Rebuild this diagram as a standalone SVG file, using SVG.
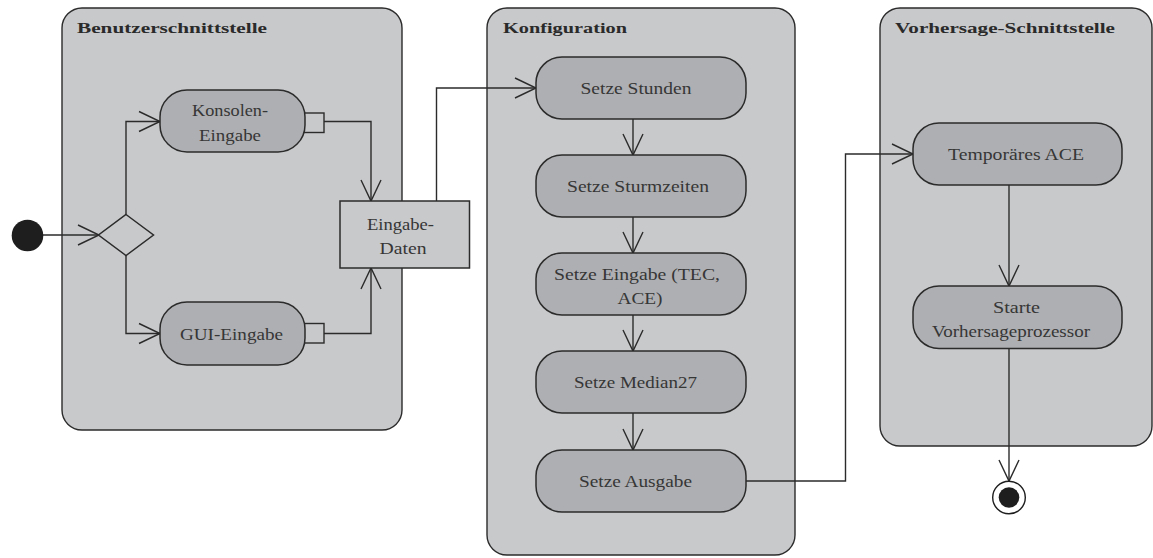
<svg xmlns="http://www.w3.org/2000/svg" width="1153" height="558" viewBox="0 0 1153 558">
  <style>
    .lane { fill: #c8c9cb; stroke: #2b2b2b; stroke-width: 1.4; }
    .act { fill: #aeafb2; stroke: #2b2b2b; stroke-width: 1.5; }
    .pin { fill: #c8c9cb; stroke: #2b2b2b; stroke-width: 1.4; }
    .obj { fill: #c8c9cb; stroke: #2b2b2b; stroke-width: 1.5; }
    .title { font-family: 'Liberation Serif', 'DejaVu Serif', serif; font-weight: bold; font-size: 15px; fill: #2a2a2a; }
    .lbl { font-family: 'Liberation Serif', 'DejaVu Serif', serif; font-size: 17px; fill: #363636; text-anchor: middle; }
    .edge { fill: none; stroke: #2b2b2b; stroke-width: 1.4; }
  </style>
  <defs>
    <marker id="open" markerUnits="userSpaceOnUse" viewBox="-23 -12 25 24" refX="0" refY="0" markerWidth="25" markerHeight="24" orient="auto" overflow="visible">
      <path d="M-21,-10 L0,0 L-21,10" fill="none" stroke="#2b2b2b" stroke-width="1.4"/>
    </marker>
  </defs>

  <!-- swimlanes -->
  <g id="lane-benutzer">
    <rect class="lane" x="62" y="8" width="340" height="422" rx="20"/>
    <text class="title" x="77" y="33" textLength="190" lengthAdjust="spacingAndGlyphs">Benutzerschnittstelle</text>
  </g>
  <g id="lane-konfiguration">
    <rect class="lane" x="487" y="8" width="308" height="547" rx="20"/>
    <text class="title" x="503" y="33" textLength="124" lengthAdjust="spacingAndGlyphs">Konfiguration</text>
  </g>
  <g id="lane-vorhersage">
    <rect class="lane" x="880" y="8" width="272" height="438" rx="20"/>
    <text class="title" x="895" y="33" textLength="220" lengthAdjust="spacingAndGlyphs">Vorhersage-Schnittstelle</text>
  </g>

  <!-- control flow -->
  <g id="connectors">
    <path class="edge" d="M43,235 H99" marker-end="url(#open)"/>
    <path class="edge" d="M126,214.5 V121.5 H160" marker-end="url(#open)"/>
    <path class="edge" d="M126,255 V333.5 H160" marker-end="url(#open)"/>
    <path class="edge" d="M324,121.5 H371 V201" marker-end="url(#open)"/>
    <path class="edge" d="M324,333.5 H371 V268" marker-end="url(#open)"/>
    <path class="edge" d="M436.5,201 V88 H536" marker-end="url(#open)"/>
    <path class="edge" d="M633,119 V155" marker-end="url(#open)"/>
    <path class="edge" d="M633,217 V253" marker-end="url(#open)"/>
    <path class="edge" d="M633,315 V351" marker-end="url(#open)"/>
    <path class="edge" d="M633,413 V450" marker-end="url(#open)"/>
    <path class="edge" d="M746,481 H845.5 V154 H913" marker-end="url(#open)"/>
    <path class="edge" d="M1009,185 V286" marker-end="url(#open)"/>
    <path class="edge" d="M1009,348 V481" marker-end="url(#open)"/>
  </g>

  <!-- start node -->
  <g id="start">
    <circle cx="27.5" cy="235.5" r="15.8" fill="#1e1e1e"/>
  </g>

  <!-- decision -->
  <g id="decision">
    <polygon class="obj" points="126,214.5 153.5,235 126,255.5 98.5,235"/>
  </g>

  <!-- Benutzerschnittstelle actions -->
  <g id="konsolen-eingabe">
    <rect class="pin" x="300" y="113" width="24" height="19.5"/>
    <rect class="act" x="160" y="90" width="145" height="62" rx="27"/>
    <text class="lbl" x="230" y="116" textLength="76" lengthAdjust="spacingAndGlyphs">Konsolen-</text>
    <text class="lbl" x="230" y="141" textLength="62" lengthAdjust="spacingAndGlyphs">Eingabe</text>
  </g>
  <g id="gui-eingabe">
    <rect class="pin" x="300" y="323.5" width="24" height="19.5"/>
    <rect class="act" x="160" y="302" width="145" height="63" rx="27"/>
    <text class="lbl" x="231.5" y="340" textLength="103" lengthAdjust="spacingAndGlyphs">GUI-Eingabe</text>
  </g>
  <g id="eingabe-daten">
    <rect class="obj" x="340" y="201" width="129.5" height="67"/>
    <text class="lbl" x="400.5" y="230" textLength="67" lengthAdjust="spacingAndGlyphs">Eingabe-</text>
    <text class="lbl" x="403" y="254" textLength="47" lengthAdjust="spacingAndGlyphs">Daten</text>
  </g>

  <!-- Konfiguration actions -->
  <g id="setze-stunden">
    <rect class="act" x="536" y="57" width="210" height="62" rx="26"/>
    <text class="lbl" x="636" y="94" textLength="111" lengthAdjust="spacingAndGlyphs">Setze Stunden</text>
  </g>
  <g id="setze-sturmzeiten">
    <rect class="act" x="536" y="155" width="210" height="62" rx="26"/>
    <text class="lbl" x="638" y="192" textLength="142" lengthAdjust="spacingAndGlyphs">Setze Sturmzeiten</text>
  </g>
  <g id="setze-eingabe">
    <rect class="act" x="536" y="253" width="210" height="62" rx="26"/>
    <text class="lbl" x="637" y="280" textLength="166" lengthAdjust="spacingAndGlyphs">Setze Eingabe (TEC,</text>
    <text class="lbl" x="640" y="304" textLength="45" lengthAdjust="spacingAndGlyphs">ACE)</text>
  </g>
  <g id="setze-median27">
    <rect class="act" x="536" y="351" width="210" height="62" rx="26"/>
    <text class="lbl" x="635.5" y="388" textLength="123" lengthAdjust="spacingAndGlyphs">Setze Median27</text>
  </g>
  <g id="setze-ausgabe">
    <rect class="act" x="536" y="450" width="210" height="62" rx="26"/>
    <text class="lbl" x="635.5" y="487" textLength="113" lengthAdjust="spacingAndGlyphs">Setze Ausgabe</text>
  </g>

  <!-- Vorhersage-Schnittstelle actions -->
  <g id="temporaeres-ace">
    <rect class="act" x="913" y="123" width="209" height="62" rx="26"/>
    <text class="lbl" x="1016" y="160" textLength="136" lengthAdjust="spacingAndGlyphs">Temporäres ACE</text>
  </g>
  <g id="starte-vorhersageprozessor">
    <rect class="act" x="913" y="286" width="209" height="62.5" rx="26"/>
    <text class="lbl" x="1016.5" y="313" textLength="47" lengthAdjust="spacingAndGlyphs">Starte</text>
    <text class="lbl" x="1011" y="337" textLength="158" lengthAdjust="spacingAndGlyphs">Vorhersageprozessor</text>
  </g>

  <!-- final node -->
  <g id="end">
    <circle cx="1009" cy="497.5" r="16.3" fill="#ffffff" stroke="#1e1e1e" stroke-width="1.4"/>
    <circle cx="1009" cy="497.5" r="10.3" fill="#1e1e1e"/>
  </g>
</svg>
